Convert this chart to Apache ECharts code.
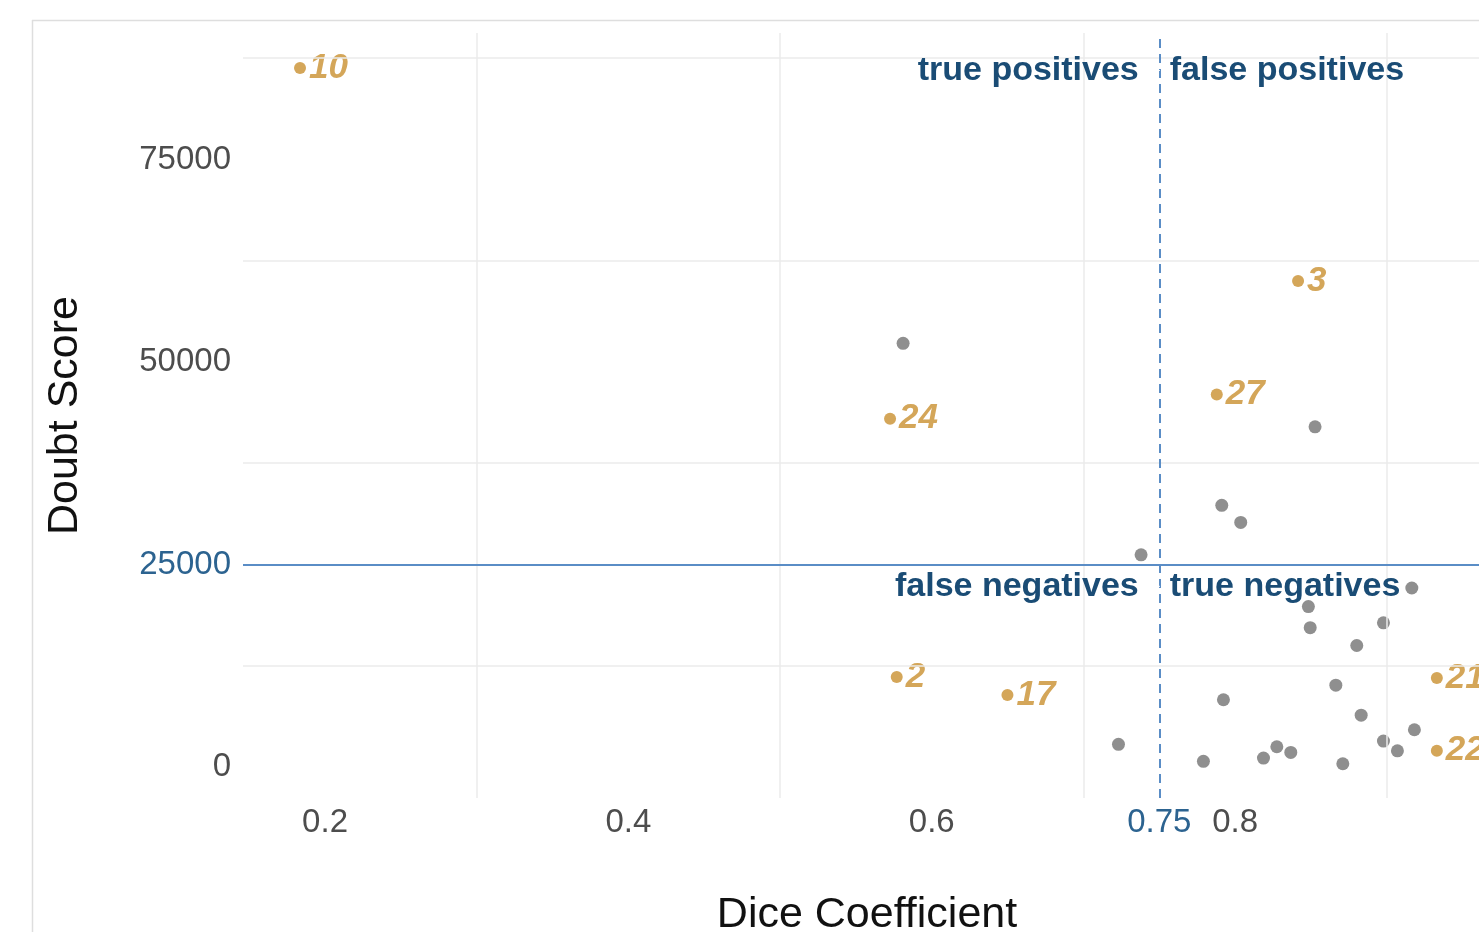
<!DOCTYPE html>
<html>
<head>
<meta charset="utf-8">
<script src="https://cdn.jsdelivr.net/npm/echarts@6/dist/echarts.min.js"></script>
<style>
  html, body { margin: 0; padding: 0; background: #ffffff; overflow: hidden; }
  #chart { width: 1479px; height: 932px; }
</style>
</head>
<body>
<div id="chart"></div>
<script>
// ---- data ----
const goldIds = ['10', '3', '27', '24', '2', '17', '21', '22'];
const goldX = [0.1835, 0.8415, 0.7879, 0.5725, 0.5769, 0.6499, 0.933, 0.933];
const goldY = [86300, 60000, 46000, 43000, 11100, 8900, 11000, 2000];

const grayX = [0.5811, 0.8527, 0.7912, 0.8037, 0.738, 0.9165, 0.8483, 0.8495, 0.8978, 0.8802,
               0.8664, 0.7923, 0.8831, 0.9182, 0.8978, 0.907, 0.871, 0.8275, 0.8187, 0.8367,
               0.7791, 0.7231];
const grayY = [52300, 42000, 32300, 30200, 26200, 22100, 19800, 17200, 17800, 15000,
               10100, 8300, 6400, 4600, 3200, 2000, 400, 2500, 1100, 1800,
               700, 2800];

const xTickLabels = [0.2, 0.4, 0.6, 0.75, 0.8];
const yTickLabels = [0, 25000, 50000, 75000];
const xGridLines = [0.3, 0.5, 0.7, 0.9];
const yGridLines = [12500, 37500, 62500, 87500];
const thresholdX = 0.75;
const thresholdY = 25000;

const quadrantText = ['true positives', 'false positives', 'false negatives', 'true negatives'];
const quadrantX = [0.75, 0.75, 0.75, 0.75];
const quadrantY = [86000, 86000, 22300, 22300];
const quadrantSide = ['left', 'right', 'left', 'right'];

// ---- styles ----
const FONT = '"Liberation Sans", Arial, Helvetica, sans-serif';
const GOLD = '#d4a659';
const GRAY = '#8f8f8f';
const NAVY = '#1a4c75';
const LINEBLUE = '#5a8dc6';
const TICKBLUE = '#2c6390';
const TICKGRAY = '#4d4d4d';

const chart = echarts.init(document.getElementById('chart'), null, { renderer: 'canvas' });

const option = {
  animation: false,
  backgroundColor: '#ffffff',
  textStyle: { fontFamily: FONT },
  graphic: [
    { type: 'line', shape: { x1: 32.5, y1: 20, x2: 32.5, y2: 932 }, style: { stroke: '#dedede', lineWidth: 1.5 }, silent: true },
    { type: 'line', shape: { x1: 32, y1: 20.5, x2: 1479, y2: 20.5 }, style: { stroke: '#dedede', lineWidth: 1.5 }, silent: true }
  ],
  grid: { left: 243, right: -12, top: 33, bottom: 134, containLabel: false, outerBoundsMode: 'none' },
  xAxis: {
    type: 'value',
    min: 0.1459,
    max: 0.9687,
    name: 'Dice Coefficient',
    nameLocation: 'middle',
    nameGap: 96,
    nameTextStyle: { fontFamily: FONT, fontSize: 43, color: '#111111' },
    axisLine: { show: false },
    axisTick: { show: false },
    splitLine: { show: false },
    axisLabel: {
      customValues: xTickLabels,
      margin: 8,
      fontSize: 33,
      fontFamily: FONT,
      color: TICKGRAY,
      formatter: function (v) {
        const s = String(Math.round(v * 100) / 100);
        return v === thresholdX ? '{hl|' + s + '}' : s;
      },
      rich: { hl: { color: TICKBLUE, fontSize: 33, fontFamily: FONT } }
    }
  },
  yAxis: {
    type: 'value',
    min: -3827,
    max: 90617,
    name: 'Doubt Score',
    nameLocation: 'middle',
    nameGap: 156,
    nameRotate: 90,
    nameTextStyle: { fontFamily: FONT, fontSize: 43, color: '#111111' },
    axisLine: { show: false },
    axisTick: { show: false },
    splitLine: { show: false },
    axisLabel: {
      customValues: yTickLabels,
      margin: 12,
      fontSize: 33,
      fontFamily: FONT,
      color: TICKGRAY,
      formatter: function (v) {
        const s = String(v);
        return v === thresholdY ? '{hl|' + s + '}' : s;
      },
      rich: { hl: { color: TICKBLUE, fontSize: 33, fontFamily: FONT } }
    }
  },
  series: [
    {
      name: 'gridlines',
      type: 'scatter',
      data: [],
      z: 1,
      silent: true,
      markLine: {
        silent: true,
        symbol: ['none', 'none'],
        label: { show: false },
        lineStyle: { color: '#ebebeb', width: 1.5, type: 'solid' },
        data: xGridLines.map(v => ({ xAxis: v })).concat(yGridLines.map(v => ({ yAxis: v })))
      }
    },
    {
      name: 'thresholds',
      type: 'scatter',
      data: [],
      z: 2,
      silent: true,
      markLine: {
        silent: true,
        symbol: ['none', 'none'],
        label: { show: false },
        data: [
          { yAxis: thresholdY, lineStyle: { color: LINEBLUE, width: 2, type: 'solid' } },
          { xAxis: thresholdX, lineStyle: { color: LINEBLUE, width: 2, type: [9, 6] } }
        ]
      }
    },
    {
      name: 'other',
      type: 'scatter',
      z: 3,
      symbolSize: 13,
      itemStyle: { color: GRAY, opacity: 1 },
      data: grayX.map((x, i) => [x, grayY[i]])
    },
    {
      name: 'flagged',
      type: 'scatter',
      z: 4,
      symbolSize: 12,
      itemStyle: { color: GOLD, opacity: 1 },
      label: {
        show: true,
        position: 'right',
        distance: 3,
        fontFamily: FONT,
        fontSize: 35,
        fontStyle: 'italic',
        fontWeight: 'bold',
        color: GOLD,
        opacity: 1,
        formatter: p => goldIds[p.dataIndex]
      },
      labelLayout: { hideOverlap: false },
      data: goldX.map((x, i) => [x, goldY[i]])
    },
    {
      name: 'quadrants',
      type: 'scatter',
      z: 5,
      symbolSize: 1,
      silent: true,
      itemStyle: { color: '#ffffff', opacity: 1 },
      label: {
        show: true,
        fontFamily: FONT,
        fontSize: 34,
        fontWeight: 'bold',
        color: NAVY,
        opacity: 1,
        formatter: p => quadrantText[p.dataIndex]
      },
      data: quadrantX.map((x, i) => ({
        value: [x, quadrantY[i]],
        label: quadrantSide[i] === 'left'
          ? { position: 'left', distance: 20 }
          : { position: 'right', distance: 10 }
      }))
    }
  ]
};

chart.setOption(option);
</script>
</body>
</html>
